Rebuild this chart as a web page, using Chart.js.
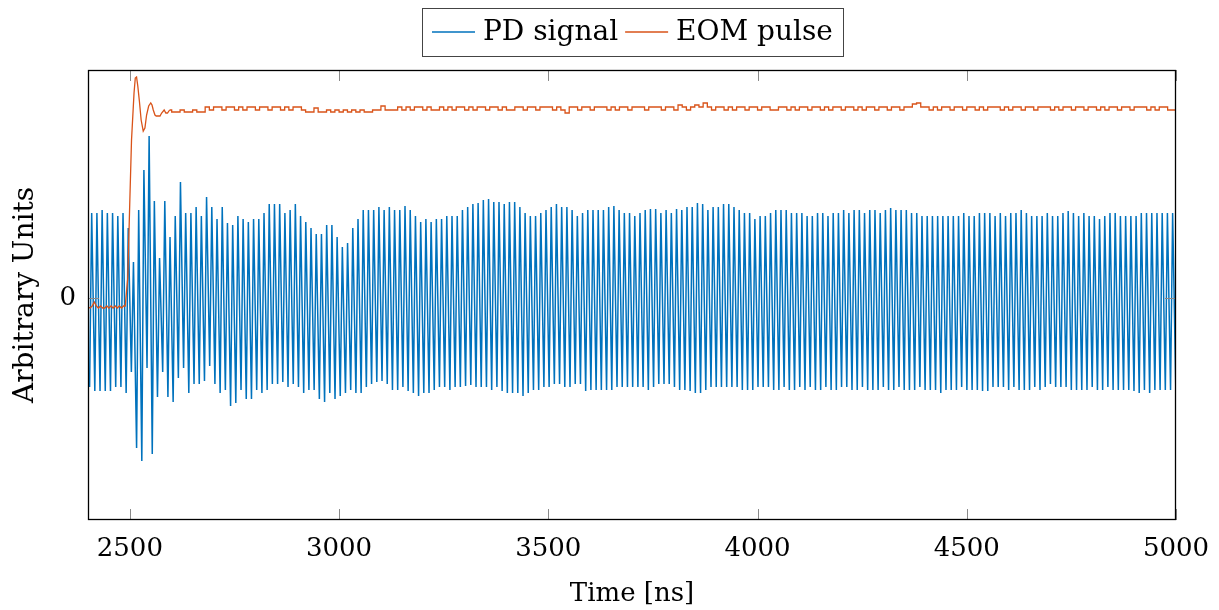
<!DOCTYPE html>
<html>
<head>
<meta charset="utf-8">
<script src="https://cdn.jsdelivr.net/npm/chart.js@4.4.1/dist/chart.umd.min.js"></script>
<style>
  html, body { margin: 0; padding: 0; background: #fff; }
  #wrap { width: 1219px; height: 610px; }
</style>
</head>
<body>
<div id="wrap"><canvas id="chart" width="1219" height="610"></canvas></div>
<script>
// Axes
const xTicks = [2500, 3000, 3500, 4000, 4500, 5000];
const yTicks = [0];
const xMin = 2400, xMax = 5000;
const yMin = -2.22, yMax = 2.28;

// PD signal: one peak and one trough per oscillation period
const pdFirstPeak = 2408.8;   // ns
const pdPeriod = 12.479;      // ns
const pdTroughPhase = 0.6;    // where the trough sits inside each period
const pdPeaks = [
    0.85, 0.85, 0.88, 0.85, 0.85, 0.82, 0.85, 0.70, 0.36, 0.88,
    1.28, 1.62, 0.97, 0.40, 0.97, 0.61, 0.82, 1.16, 0.85, 0.85,
    0.91, 0.82, 1.01, 0.91, 0.79, 0.91, 0.75, 0.73, 0.82, 0.79,
    0.76, 0.79, 0.79, 0.85, 0.94, 0.94, 0.94, 0.85, 0.88, 0.94,
    0.82, 0.76, 0.70, 0.64, 0.64, 0.73, 0.73, 0.61, 0.51, 0.55,
    0.70, 0.79, 0.88, 0.88, 0.88, 0.91, 0.88, 0.91, 0.88, 0.88,
    0.92, 0.88, 0.82, 0.76, 0.79, 0.76, 0.79, 0.79, 0.82, 0.82,
    0.82, 0.88, 0.91, 0.94, 0.95, 0.98, 0.99, 0.96, 0.96, 0.94,
    0.96, 0.96, 0.91, 0.85, 0.82, 0.82, 0.85, 0.88, 0.91, 0.94,
    0.91, 0.91, 0.88, 0.82, 0.85, 0.88, 0.88, 0.88, 0.88, 0.91,
    0.92, 0.88, 0.85, 0.85, 0.82, 0.85, 0.88, 0.89, 0.89, 0.85,
    0.88, 0.85, 0.89, 0.88, 0.91, 0.91, 0.95, 0.94, 0.88, 0.91,
    0.91, 0.94, 0.94, 0.91, 0.88, 0.85, 0.85, 0.79, 0.82, 0.82,
    0.85, 0.88, 0.88, 0.88, 0.85, 0.85, 0.85, 0.82, 0.82, 0.85,
    0.85, 0.82, 0.85, 0.85, 0.88, 0.85, 0.88, 0.88, 0.85, 0.88,
    0.88, 0.85, 0.88, 0.90, 0.88, 0.88, 0.88, 0.85, 0.85, 0.82,
    0.82, 0.82, 0.82, 0.82, 0.82, 0.82, 0.82, 0.85, 0.82, 0.82,
    0.85, 0.85, 0.85, 0.82, 0.85, 0.82, 0.85, 0.85, 0.88, 0.85,
    0.82, 0.82, 0.82, 0.85, 0.82, 0.82, 0.85, 0.87, 0.85, 0.82,
    0.85, 0.82, 0.82, 0.79, 0.82, 0.85, 0.85, 0.82, 0.82, 0.82,
    0.82, 0.85, 0.85, 0.85, 0.85, 0.85, 0.85, 0.85
];
// first trough comes before the first peak, the rest follow each peak
const pdTroughs = [
    -0.89,
    -0.93, -0.93, -0.93, -0.93, -0.89, -0.89, -0.95, -0.74, -1.50, -1.63,
    -0.70, -1.56, -0.99, -0.74, -0.99, -1.04, -0.80, -0.70, -0.95, -0.86,
    -0.86, -0.83, -0.68, -0.86, -0.95, -0.92, -1.08, -1.05, -0.92, -1.01,
    -1.01, -0.92, -0.95, -0.92, -0.86, -0.86, -0.84, -0.89, -0.86, -0.89,
    -0.95, -0.92, -0.92, -1.01, -1.04, -0.95, -1.01, -0.98, -0.95, -0.92,
    -0.95, -0.95, -0.89, -0.86, -0.84, -0.83, -0.86, -0.92, -0.92, -0.89,
    -0.93, -0.95, -0.98, -0.95, -0.95, -0.92, -0.89, -0.89, -0.92, -0.89,
    -0.89, -0.88, -0.87, -0.89, -0.89, -0.89, -0.92, -0.89, -0.93, -0.95,
    -0.95, -0.95, -0.98, -0.95, -0.92, -0.92, -0.89, -0.89, -0.86, -0.86,
    -0.89, -0.89, -0.86, -0.86, -0.93, -0.92, -0.92, -0.92, -0.92, -0.92,
    -0.89, -0.89, -0.89, -0.89, -0.89, -0.89, -0.92, -0.89, -0.86, -0.86,
    -0.86, -0.89, -0.92, -0.92, -0.93, -0.95, -0.95, -0.92, -0.89, -0.89,
    -0.89, -0.89, -0.89, -0.89, -0.92, -0.92, -0.92, -0.89, -0.89, -0.89,
    -0.92, -0.92, -0.89, -0.92, -0.92, -0.89, -0.92, -0.89, -0.92, -0.92,
    -0.89, -0.92, -0.92, -0.89, -0.89, -0.92, -0.92, -0.89, -0.92, -0.92,
    -0.92, -0.89, -0.92, -0.92, -0.89, -0.92, -0.92, -0.92, -0.89, -0.92,
    -0.92, -0.92, -0.95, -0.92, -0.92, -0.92, -0.89, -0.92, -0.92, -0.92,
    -0.93, -0.93, -0.89, -0.89, -0.89, -0.92, -0.89, -0.92, -0.92, -0.92,
    -0.89, -0.92, -0.89, -0.86, -0.89, -0.89, -0.89, -0.92, -0.92, -0.92,
    -0.92, -0.89, -0.92, -0.92, -0.89, -0.92, -0.92, -0.92, -0.92, -0.93,
    -0.95, -0.92, -0.95, -0.92, -0.92, -0.92, -0.92, -0.89
];

// EOM pulse: the edge and ringing, then the settled (quantised) level every 10 ns
const eomEarlyTimes = [
    2400, 2405, 2410, 2415, 2420, 2425, 2430, 2435, 2440, 2445,
    2450, 2455, 2460, 2465, 2470, 2475, 2480, 2485, 2489, 2495,
    2500, 2504, 2510, 2513, 2516, 2519, 2523, 2527, 2532, 2536,
    2540, 2545, 2550, 2553, 2556, 2560, 2563, 2572, 2576, 2582,
    2586, 2590, 2595
];
const eomEarlyValues = [
    -0.09, -0.10, -0.08, -0.04, -0.08, -0.10, -0.08, -0.10, -0.10, -0.08,
    -0.10, -0.08, -0.10, -0.08, -0.10, -0.08, -0.10, -0.08, -0.08, 0.20,
    0.98, 1.58, 2.05, 2.20, 2.21, 2.12, 1.96, 1.78, 1.67, 1.70,
    1.83, 1.92, 1.95, 1.93, 1.88, 1.83, 1.82, 1.82, 1.85, 1.88,
    1.85, 1.85, 1.88
];
const eomLateStart = 2600, eomLateStep = 10;
const eomLateValues = [
    1.86, 1.86, 1.88, 1.86, 1.86, 1.88, 1.86, 1.86, 1.91, 1.88,
    1.91, 1.91, 1.88, 1.91, 1.91, 1.88, 1.91, 1.88, 1.91, 1.91,
    1.88, 1.91, 1.91, 1.88, 1.91, 1.91, 1.88, 1.91, 1.88, 1.91,
    1.91, 1.88, 1.86, 1.86, 1.90, 1.86, 1.86, 1.88, 1.86, 1.88,
    1.86, 1.88, 1.86, 1.88, 1.86, 1.88, 1.86, 1.86, 1.88, 1.88,
    1.92, 1.88, 1.88, 1.88, 1.91, 1.88, 1.91, 1.88, 1.91, 1.91,
    1.88, 1.91, 1.88, 1.88, 1.91, 1.88, 1.91, 1.88, 1.91, 1.91,
    1.88, 1.91, 1.88, 1.91, 1.91, 1.88, 1.91, 1.91, 1.88, 1.91,
    1.88, 1.88, 1.91, 1.91, 1.88, 1.91, 1.91, 1.88, 1.91, 1.91,
    1.91, 1.88, 1.91, 1.88, 1.85, 1.91, 1.91, 1.88, 1.91, 1.91,
    1.88, 1.91, 1.91, 1.91, 1.88, 1.91, 1.88, 1.91, 1.91, 1.88,
    1.91, 1.91, 1.91, 1.88, 1.91, 1.91, 1.91, 1.88, 1.91, 1.91,
    1.88, 1.93, 1.91, 1.88, 1.91, 1.93, 1.91, 1.95, 1.91, 1.88,
    1.91, 1.91, 1.88, 1.91, 1.88, 1.91, 1.91, 1.88, 1.91, 1.91,
    1.88, 1.91, 1.91, 1.88, 1.88, 1.91, 1.91, 1.88, 1.91, 1.88,
    1.91, 1.91, 1.88, 1.91, 1.91, 1.88, 1.91, 1.88, 1.91, 1.91,
    1.88, 1.91, 1.91, 1.88, 1.91, 1.88, 1.91, 1.91, 1.88, 1.91,
    1.91, 1.88, 1.91, 1.91, 1.88, 1.91, 1.91, 1.94, 1.95, 1.91,
    1.91, 1.88, 1.91, 1.88, 1.91, 1.91, 1.88, 1.91, 1.91, 1.88,
    1.91, 1.91, 1.88, 1.91, 1.88, 1.91, 1.91, 1.91, 1.88, 1.91,
    1.88, 1.91, 1.91, 1.88, 1.91, 1.91, 1.88, 1.91, 1.91, 1.91,
    1.88, 1.91, 1.88, 1.91, 1.91, 1.88, 1.91, 1.91, 1.88, 1.91,
    1.91, 1.88, 1.91, 1.88, 1.91, 1.91, 1.88, 1.91, 1.91, 1.88,
    1.91, 1.91, 1.91, 1.88, 1.91, 1.88, 1.91, 1.91, 1.88, 1.88,
    1.89
];

const pdColor = '#0072BD';
const eomColor = '#D95319';
const fontFamily = '"DejaVu Serif", "Liberation Serif", serif';
const tickSize = 26;
const labelSize = 28;

// Build point lists
const pdData = [];
pdData.push({ x: pdFirstPeak - (1 - pdTroughPhase) * pdPeriod, y: pdTroughs[0] });
pdPeaks.forEach((v, i) => {
    const t = pdFirstPeak + i * pdPeriod;
    pdData.push({ x: t, y: v });
    pdData.push({ x: t + pdTroughPhase * pdPeriod, y: pdTroughs[i + 1] });
});

const eomEarly = eomEarlyTimes.map((t, i) => ({ x: t, y: eomEarlyValues[i] }));
// late part starts at the last early point so the two pieces join
const eomLate = [eomEarly[eomEarly.length - 1]];
eomLateValues.forEach((v, k) => {
    eomLate.push({ x: eomLateStart + k * eomLateStep, y: v });
});

// Frame and inward tick marks like pgfplots
const framePlugin = {
    id: 'frame',
    afterDatasetsDraw(chart) {
        const { ctx, chartArea: a, scales: { x, y } } = chart;
        ctx.save();
        ctx.strokeStyle = '#8a8a8a';
        ctx.lineWidth = 1;
        const seg = (x1, y1, x2, y2) => {
            ctx.beginPath();
            ctx.moveTo(x1, y1);
            ctx.lineTo(x2, y2);
            ctx.stroke();
        };
        xTicks.forEach(v => {
            const px = Math.round(x.getPixelForValue(v)) + 0.5;
            seg(px, a.bottom, px, a.bottom - 11);
            seg(px, a.top, px, a.top + 11);
        });
        yTicks.forEach(v => {
            const py = Math.round(y.getPixelForValue(v)) + 0.5;
            seg(a.left, py, a.left + 11, py);
            seg(a.right, py, a.right - 11, py);
        });
        ctx.strokeStyle = '#000';
        ctx.lineWidth = 1.3;
        ctx.strokeRect(a.left + 0.5, a.top + 0.5, a.width - 1, a.height - 1);
        ctx.restore();
    }
};

// Boxed legend above the plot
const legendPlugin = {
    id: 'boxLegend',
    afterDraw(chart) {
        const ctx = chart.ctx;
        ctx.save();
        ctx.font = labelSize + 'px ' + fontFamily;
        const items = chart.data.datasets.filter(d => !d.noLegend).map(d => ({
            label: d.label,
            color: d.borderColor,
            w: ctx.measureText(d.label).width
        }));
        const pad = 10, lineLen = 43, gap = 8, itemGap = 7;
        const total = pad * 2 + itemGap * (items.length - 1) +
            items.reduce((s, it) => s + lineLen + gap + it.w, 0);
        const cx = (chart.chartArea.left + chart.chartArea.right) / 2;
        let x = Math.round(cx - total / 2);
        const top = 8, h = 48, mid = top + h / 2;
        ctx.strokeStyle = '#444';
        ctx.lineWidth = 1;
        ctx.strokeRect(x + 0.5, top + 0.5, Math.round(total), h);
        x += pad;
        ctx.textBaseline = 'middle';
        ctx.textAlign = 'left';
        items.forEach(it => {
            ctx.strokeStyle = it.color;
            ctx.lineWidth = 1.3;
            ctx.beginPath();
            ctx.moveTo(x, mid);
            ctx.lineTo(x + lineLen, mid);
            ctx.stroke();
            x += lineLen + gap;
            ctx.fillStyle = '#000';
            ctx.fillText(it.label, x, mid + 1);
            x += it.w + itemGap;
        });
        ctx.restore();
    }
};

new Chart(document.getElementById('chart'), {
    type: 'line',
    data: {
        datasets: [
            {
                label: 'PD signal',
                data: pdData,
                borderColor: pdColor,
                borderWidth: 1.5,
                pointRadius: 0,
                tension: 0,
                order: 2
            },
            {
                label: 'EOM pulse',
                data: eomEarly,
                borderColor: eomColor,
                borderWidth: 1.3,
                pointRadius: 0,
                tension: 0,
                order: 1
            },
            {
                label: 'EOM pulse',
                noLegend: true,
                data: eomLate,
                borderColor: eomColor,
                borderWidth: 1.3,
                pointRadius: 0,
                stepped: 'before',
                order: 0
            }
        ]
    },
    options: {
        responsive: false,
        animation: false,
        layout: { padding: { top: 70, right: 43, left: 0, bottom: 0 } },
        plugins: {
            legend: { display: false },
            tooltip: { enabled: false }
        },
        scales: {
            x: {
                type: 'linear',
                min: xMin,
                max: xMax,
                grid: { display: false, drawTicks: false },
                border: { display: false },
                afterBuildTicks: axis => { axis.ticks = xTicks.map(v => ({ value: v })); },
                afterFit: axis => {
                    axis.height = 90;
                    axis.paddingLeft = 0;
                    axis.paddingRight = 0;
                },
                ticks: {
                    color: '#000',
                    padding: 14,
                    maxRotation: 0,
                    font: { family: fontFamily, size: tickSize },
                    callback: v => String(v)
                },
                title: {
                    display: true,
                    text: 'Time [ns]',
                    color: '#000',
                    font: { family: fontFamily, size: tickSize },
                    padding: { top: 0, bottom: 0 }
                }
            },
            y: {
                type: 'linear',
                min: yMin,
                max: yMax,
                grid: { display: false, drawTicks: false },
                border: { display: false },
                afterBuildTicks: axis => { axis.ticks = yTicks.map(v => ({ value: v })); },
                afterFit: axis => {
                    axis.width = 88;
                    axis.paddingTop = 0;
                    axis.paddingBottom = 0;
                },
                ticks: {
                    color: '#000',
                    padding: 12,
                    font: { family: fontFamily, size: tickSize },
                    callback: v => String(v)
                },
                title: {
                    display: true,
                    text: 'Arbitrary Units',
                    color: '#000',
                    font: { family: fontFamily, size: labelSize },
                    padding: { top: 9, bottom: 0 }
                }
            }
        }
    },
    plugins: [framePlugin, legendPlugin]
});
</script>
</body>
</html>
